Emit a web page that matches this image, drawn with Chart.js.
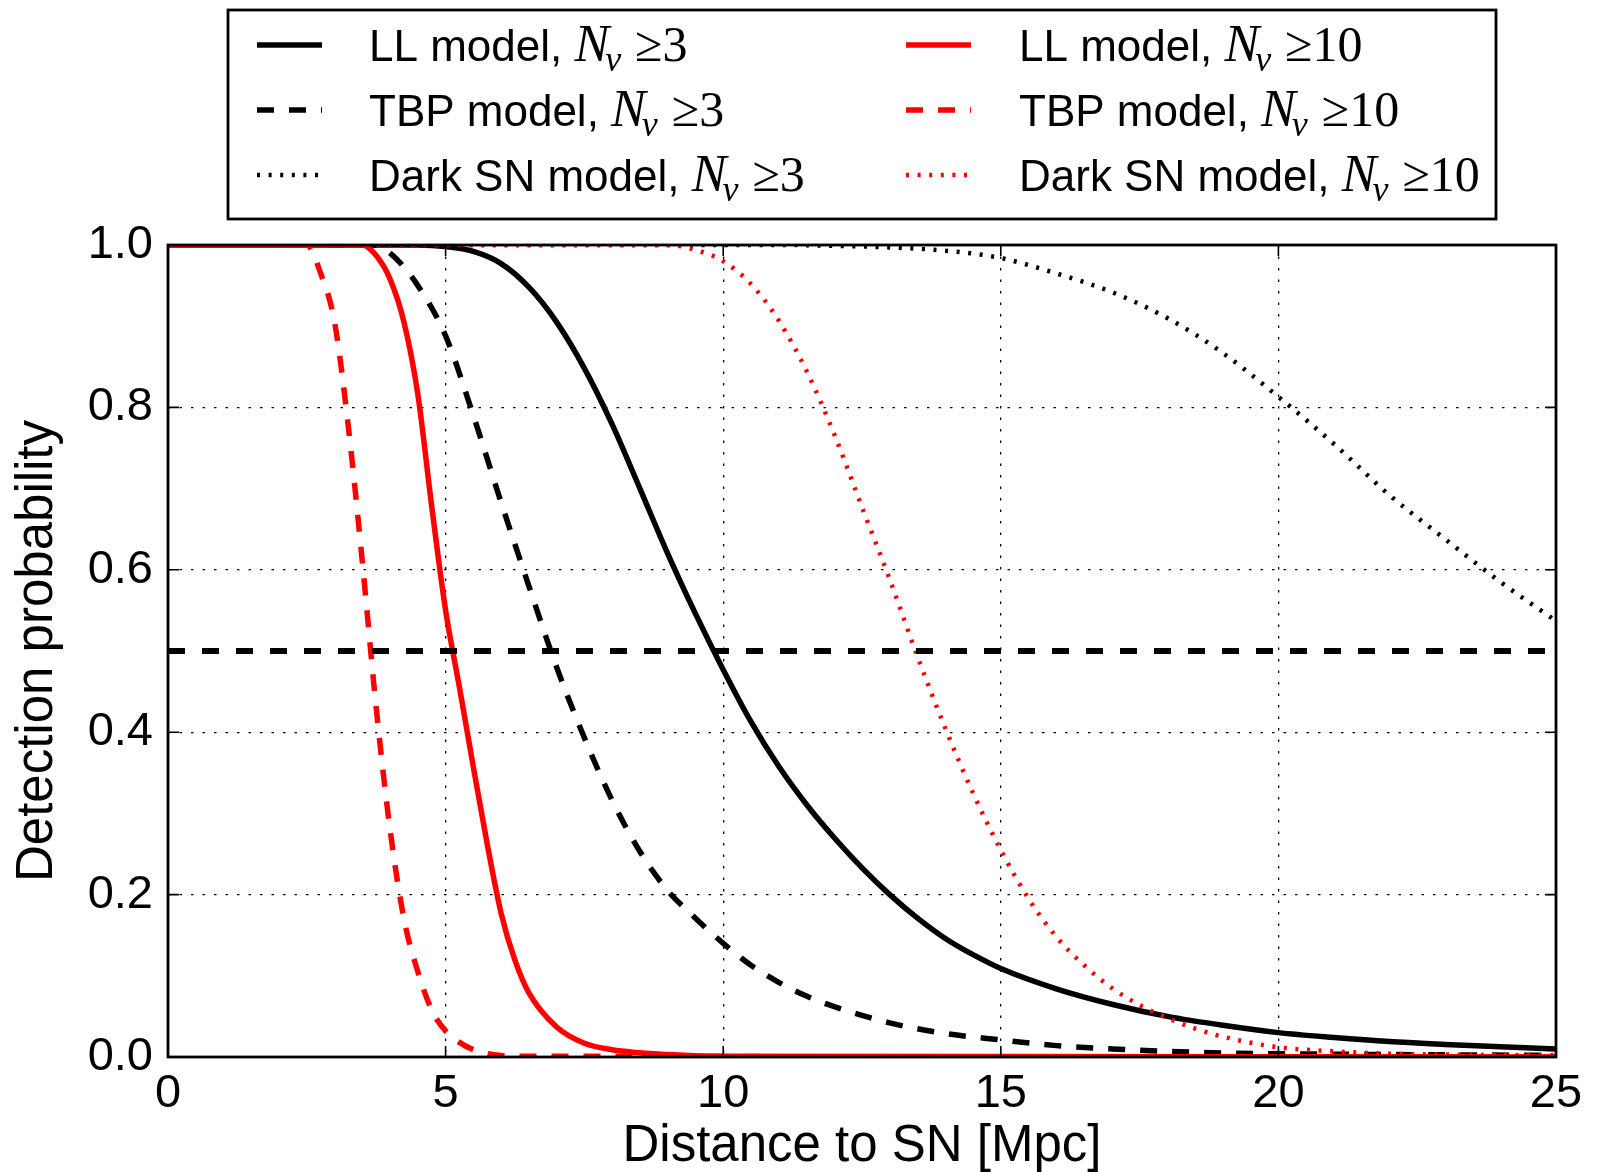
<!DOCTYPE html>
<html>
<head>
<meta charset="utf-8">
<script src="https://cdn.jsdelivr.net/npm/chart.js@4/dist/chart.umd.min.js"></script>
<style>
  html, body { margin: 0; padding: 0; background: #fff; }
  canvas { display: block; }
</style>
</head>
<body>
<canvas id="probChart" width="1598" height="1172" style="width:1598px;height:1172px"></canvas>
<script>
// distances in Mpc and detection probabilities
const llX3 = [0, 4.5, 5.0, 5.5, 6.0, 6.5, 7.0, 7.5, 8.0, 8.5, 9.0, 9.5, 10.0, 10.5, 11.0, 11.5, 12.0, 12.5, 13.0, 13.5, 14.0, 14.5, 15.0, 16.0, 17.0, 18.0, 19.0, 20.0, 21.0, 22.0, 23.0, 24.0, 25.0];
const llY3 = [1.0, 1.0, 0.998, 0.992, 0.977, 0.948, 0.905, 0.848, 0.779, 0.70, 0.62, 0.546, 0.477, 0.413, 0.358, 0.311, 0.27, 0.233, 0.20, 0.171, 0.146, 0.126, 0.109, 0.084, 0.065, 0.050, 0.039, 0.030, 0.024, 0.019, 0.0155, 0.0125, 0.010];

const tbpX3 = [0, 3.7, 4.0, 4.5, 5.0, 5.5, 6.0, 6.5, 7.0, 7.5, 8.0, 8.5, 9.0, 9.5, 10.0, 10.5, 11.0, 11.5, 12.0, 13.0, 14.0, 15.0, 16.0, 17.0, 18.0, 19.0, 20.0, 22.0, 25.0];
const tbpY3 = [1.0, 1.0, 0.99, 0.95, 0.888, 0.79, 0.683, 0.58, 0.48, 0.393, 0.316, 0.253, 0.205, 0.171, 0.14, 0.113, 0.092, 0.075, 0.062, 0.042, 0.029, 0.021, 0.014, 0.010, 0.007, 0.005, 0.004, 0.003, 0.002];

const darkX3 = [0, 11, 12, 13, 14, 15, 16, 17, 18, 19, 20, 21, 22, 23, 24, 25];
const darkY3 = [1.0, 1.0, 0.999, 0.997, 0.993, 0.984, 0.965, 0.942, 0.91, 0.867, 0.813, 0.755, 0.692, 0.638, 0.585, 0.537];

const llX10 = [0, 3.5, 3.75, 4.0, 4.25, 4.5, 4.75, 5.0, 5.25, 5.5, 5.75, 6.0, 6.25, 6.5, 7.0, 7.5, 8.0, 9.0, 10.0, 25.0];
const llY10 = [1.0, 1.0, 0.987, 0.958, 0.905, 0.816, 0.678, 0.55, 0.455, 0.357, 0.262, 0.177, 0.119, 0.079, 0.037, 0.017, 0.009, 0.003, 0.001, 0.0];

const tbpX10 = [0, 2.5, 2.75, 3.0, 3.25, 3.5, 3.75, 4.0, 4.25, 4.5, 4.75, 5.0, 5.25, 5.5, 6.0, 6.5, 25];
const tbpY10 = [1.0, 1.0, 0.965, 0.905, 0.775, 0.61, 0.43, 0.28, 0.17, 0.105, 0.058, 0.032, 0.018, 0.009, 0.002, 0.001, 0.0];

const darkX10 = [0, 9.0, 9.5, 10.0, 10.5, 11.0, 11.5, 12.0, 12.5, 13.0, 13.5, 14.0, 14.5, 15.0, 15.5, 16.0, 16.5, 17.0, 17.5, 18.0, 18.5, 19.0, 20.0, 21.0, 22.0, 23.0, 25.0];
const darkY10 = [1.0, 1.0, 0.994, 0.98, 0.952, 0.907, 0.845, 0.767, 0.677, 0.588, 0.493, 0.405, 0.325, 0.255, 0.195, 0.148, 0.113, 0.085, 0.064, 0.048, 0.035, 0.025, 0.012, 0.007, 0.004, 0.003, 0.002];

const threshold = 0.5;
const xTicks = [0, 5, 10, 15, 20, 25];
const yTicks = [0.0, 0.2, 0.4, 0.6, 0.8, 1.0];

const toPts = (xs, ys) => xs.map((x, i) => ({ x: x, y: ys[i] }));

Chart.defaults.font.family = '"Liberation Sans", Arial, sans-serif';
Chart.defaults.color = '#000';

const DASH = [17, 15];
const DOT = [3, 8.6];

function line(label, n, xs, ys, color, dash, width, order) {
    return {
        label: label, n: n,
        data: toPts(xs, ys),
        borderColor: color,
        borderDash: dash,
        borderWidth: width,
        borderCapStyle: 'butt',
        pointRadius: 0,
        fill: false,
        cubicInterpolationMode: 'monotone',
        order: order
    };
}

const datasets = [
    line('LL model', '3', llX3, llY3, '#000', [], 5.5, 2),
    line('TBP model', '3', tbpX3, tbpY3, '#000', DASH, 5.5, 2),
    line('Dark SN model', '3', darkX3, darkY3, '#000', DOT, 4.5, 2),
    line('LL model', '10', llX10, llY10, '#ff0000', [], 5.5, 1),
    line('TBP model', '10', tbpX10, tbpY10, '#ff0000', DASH, 5.5, 1),
    line('Dark SN model', '10', darkX10, darkY10, '#ff0000', DOT, 4.5, 1),
    {
        label: '', data: [{ x: xTicks[0], y: threshold }, { x: xTicks[xTicks.length - 1], y: threshold }],
        borderColor: '#000', borderDash: [17, 17], borderWidth: 6, borderCapStyle: 'butt',
        pointRadius: 0, fill: false, order: 0, skipLegend: true
    }
];

// frame and inward ticks like the original plot
const framePlugin = {
    id: 'frame',
    afterDraw(chart) {
        const { ctx, chartArea: a, scales } = chart;
        ctx.save();
        ctx.strokeStyle = '#000';
        ctx.lineWidth = 1.6;
        ctx.beginPath();
        xTicks.forEach(v => {
            const px = scales.x.getPixelForValue(v);
            ctx.moveTo(px, a.bottom); ctx.lineTo(px, a.bottom - 11);
            ctx.moveTo(px, a.top); ctx.lineTo(px, a.top + 11);
        });
        yTicks.forEach(v => {
            const py = scales.y.getPixelForValue(v);
            ctx.moveTo(a.left, py); ctx.lineTo(a.left + 11, py);
            ctx.moveTo(a.right, py); ctx.lineTo(a.right - 11, py);
        });
        ctx.stroke();
        ctx.lineWidth = 2.8;
        ctx.strokeRect(a.left, a.top, a.right - a.left, a.bottom - a.top);
        ctx.restore();
    }
};

// two-column legend box above the axes
const legendPlugin = {
    id: 'boxLegend',
    afterDraw(chart) {
        const ctx = chart.ctx;
        const box = { x: 228, y: 10, w: 1268, h: 209 };
        const cols = [{ hx: 257, tx: 369 }, { hx: 906, tx: 1019 }];
        const rows = [45, 110, 175];
        ctx.save();
        ctx.fillStyle = '#fff';
        ctx.fillRect(box.x, box.y, box.w, box.h);
        ctx.strokeStyle = '#000';
        ctx.lineWidth = 2.8;
        ctx.strokeRect(box.x, box.y, box.w, box.h);
        const entries = chart.data.datasets.filter(d => !d.skipLegend);
        entries.forEach((ds, i) => {
            const c = cols[Math.floor(i / 3)];
            const y = rows[i % 3];
            ctx.save();
            ctx.strokeStyle = ds.borderColor;
            ctx.lineWidth = ds.borderWidth;
            ctx.lineCap = 'butt';
            ctx.setLineDash(ds.borderDash);
            ctx.beginPath();
            ctx.moveTo(c.hx, y);
            ctx.lineTo(c.hx + 65, y);
            ctx.stroke();
            ctx.restore();

            const base = y + 16;
            let cx = c.tx;
            ctx.fillStyle = '#000';
            ctx.textBaseline = 'alphabetic';
            ctx.font = '44px "Liberation Sans", Arial, sans-serif';
            const head = ds.label + ', ';
            ctx.fillText(head, cx, base);
            cx += ctx.measureText(head).width;
            ctx.font = 'italic 52px "Liberation Serif", serif';
            ctx.fillText('N', cx, base);
            cx += ctx.measureText('N').width - 4;
            ctx.font = 'italic 36px "Liberation Serif", serif';
            ctx.fillText('\u03BD', cx, base + 10);
            cx += ctx.measureText('\u03BD').width + 14;
            ctx.font = '50px "Liberation Serif", serif';
            ctx.fillText('\u2265' + ds.n, cx, base);
        });
        ctx.restore();
    }
};

const ctx = document.getElementById('probChart').getContext('2d');
new Chart(ctx, {
    type: 'line',
    data: { datasets: datasets },
    options: {
        responsive: false,
        animation: false,
        devicePixelRatio: 1,
        layout: { padding: { left: 0, right: 42, top: 245, bottom: 0 } },
        plugins: { legend: { display: false }, tooltip: { enabled: false } },
        scales: {
            x: {
                type: 'linear', min: 0, max: 25,
                afterFit: s => { s.height = 115; },
                afterBuildTicks: s => { s.ticks = xTicks.map(v => ({ value: v })); },
                ticks: { font: { size: 47 }, color: '#000', padding: 9, maxRotation: 0 },
                grid: { color: '#000', lineWidth: 1.3, drawTicks: false },
                border: { display: false, dash: [2.5, 9] },
                title: { display: true, text: 'Distance to SN [Mpc]', color: '#000', font: { size: 51, lineHeight: 1.0 }, padding: { top: 0, bottom: 0 } }
            },
            y: {
                type: 'linear', min: 0, max: 1,
                afterFit: s => { s.width = 168; },
                afterBuildTicks: s => { s.ticks = yTicks.map(v => ({ value: v })); },
                ticks: { font: { size: 47 }, color: '#000', padding: 15, callback: v => v.toFixed(1) },
                grid: { color: '#000', lineWidth: 1.3, drawTicks: false },
                border: { display: false, dash: [2.5, 9] },
                title: { display: true, text: 'Detection probability', color: '#000', font: { size: 51 }, padding: { top: 7, bottom: 0 } }
            }
        }
    },
    plugins: [framePlugin, legendPlugin]
});
</script>
</body>
</html>
